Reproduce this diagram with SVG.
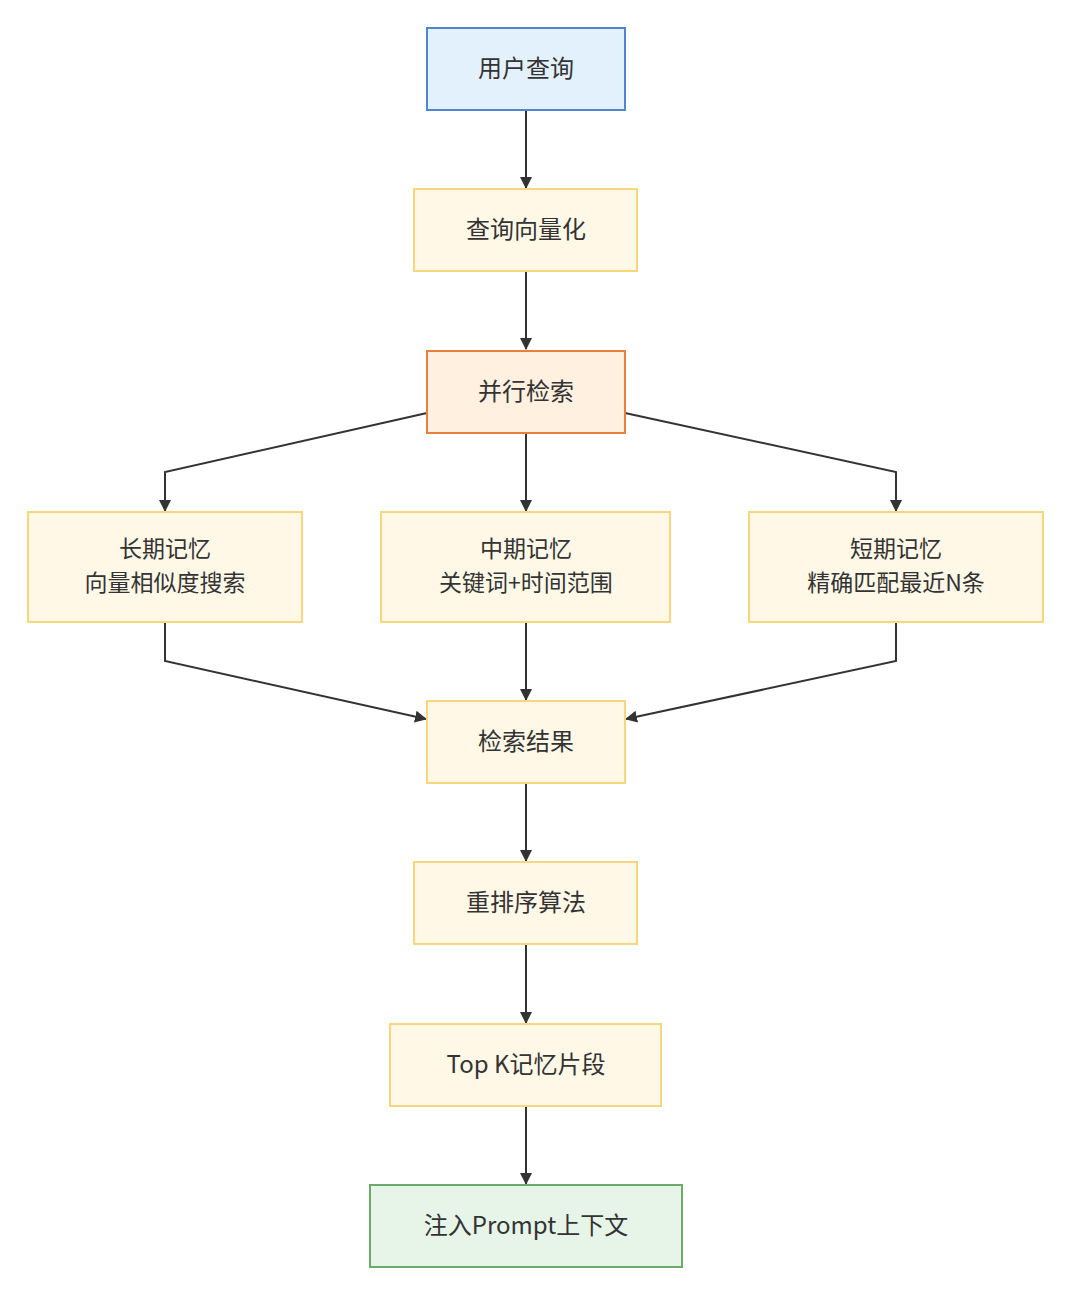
<svg xmlns="http://www.w3.org/2000/svg" width="1080" height="1306" viewBox="0 0 1080 1306">
<style>
.n rect{stroke-width:2}
.y rect{fill:#fff8e7;stroke:#f6d77c}
.t{font-family:"Noto Sans CJK SC","Noto Sans",sans-serif;font-size:24px;fill:#333;text-anchor:middle;dominant-baseline:central}
.t2{font-size:23px}
.e{fill:none;stroke:#333;stroke-width:2}
</style>
<defs>
<marker id="a" viewBox="0 0 12 12" refX="11" refY="6" markerWidth="12" markerHeight="12" markerUnits="userSpaceOnUse" orient="auto">
<path d="M0,0 L12,6 L0,12 z" fill="#333"/>
</marker>
</defs>
<rect width="1080" height="1306" fill="#fff"/>
<g id="edges">
<path class="e" d="M526,110 V188" marker-end="url(#a)"/>
<path class="e" d="M526,271 V349" marker-end="url(#a)"/>
<path class="e" d="M427,413 L165,472 V511" marker-end="url(#a)"/>
<path class="e" d="M526,433 V511" marker-end="url(#a)"/>
<path class="e" d="M625,413 L896,472 V511" marker-end="url(#a)"/>
<path class="e" d="M165,622 V661 L426,719" marker-end="url(#a)"/>
<path class="e" d="M526,622 V700" marker-end="url(#a)"/>
<path class="e" d="M896,622 V661 L626,719" marker-end="url(#a)"/>
<path class="e" d="M526,783 V861" marker-end="url(#a)"/>
<path class="e" d="M526,944 V1023" marker-end="url(#a)"/>
<path class="e" d="M526,1106 V1184" marker-end="url(#a)"/>
</g>
<g id="n1" class="n"><rect x="427" y="28" width="198" height="82" fill="#e3f1fd" stroke="#4f86d0"/><text class="t" x="526" y="66">用户查询</text></g>
<g id="n2" class="n y"><rect x="414" y="189" width="223" height="82"/><text class="t" x="526" y="227">查询向量化</text></g>
<g id="n3" class="n"><rect x="427" y="351" width="198" height="82" fill="#fff0e0" stroke="#e8803a"/><text class="t" x="526" y="389">并行检索</text></g>
<g id="n4" class="n y"><rect x="28" y="512" width="274" height="110"/><text class="t t2" x="165" y="547">长期记忆</text><text class="t t2" x="165" y="581">向量相似度搜索</text></g>
<g id="n5" class="n y"><rect x="381" y="512" width="289" height="110"/><text class="t t2" x="526" y="547">中期记忆</text><text class="t t2" x="526" y="581">关键词+时间范围</text></g>
<g id="n6" class="n y"><rect x="749" y="512" width="294" height="110"/><text class="t t2" x="896" y="547">短期记忆</text><text class="t t2" x="896" y="581">精确匹配最近N条</text></g>
<g id="n7" class="n y"><rect x="427" y="701" width="198" height="82"/><text class="t" x="526" y="739">检索结果</text></g>
<g id="n8" class="n y"><rect x="414" y="862" width="223" height="82"/><text class="t" x="526" y="900">重排序算法</text></g>
<g id="n9" class="n y"><rect x="390" y="1024" width="271" height="82"/><text class="t" x="526" y="1062">Top K记忆片段</text></g>
<g id="n10" class="n"><rect x="370" y="1185" width="312" height="82" fill="#e7f4e8" stroke="#6aaa6c"/><text class="t" x="526" y="1223">注入Prompt上下文</text></g>
</svg>
